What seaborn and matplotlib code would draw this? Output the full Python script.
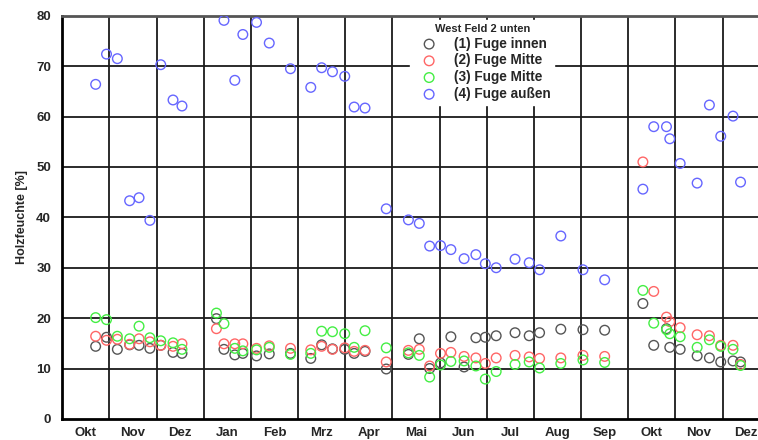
import numpy as np
import pandas as pd
import seaborn as sns
import matplotlib
matplotlib.use("Agg")
import matplotlib.pyplot as plt

# Messtage in Monaten ab Anfang Oktober (Okt = 0 .. Dez = 14)
messtag = [0.71, 0.94, 1.17, 1.43, 1.63, 1.86, 2.09, 2.35, 2.54,
           3.27, 3.43, 3.66, 3.83, 4.12, 4.39, 4.84, 5.27, 5.50, 5.73, 5.99,
           6.19, 6.42, 6.87, 7.34, 7.57, 7.79, 8.02, 8.24, 8.52, 8.77, 8.97,
           9.20, 9.60, 9.90, 10.12, 10.57, 11.04, 11.50,
           12.31, 12.54, 12.81, 12.88, 13.10, 13.46, 13.72, 13.96, 14.22, 14.38]

fuge1_innen = [14.4, 16.2, 13.8, 14.7, 14.6, 14.0, 14.6, 13.2, 13.0,
               19.9, 13.8, 12.7, 13.0, 12.5, 12.9, 13.0, 12.0, 14.7, 13.9, 13.8,
               13.0, 13.4, 9.9, 12.8, 15.9, 10.0, 11.1, 16.3, 10.3, 16.1, 16.2,
               16.5, 17.1, 16.5, 17.1, 17.8, 17.7, 17.6,
               22.9, 14.6, 17.9, 14.2, 13.8, 12.5, 12.1, 11.3, 11.5, 11.3]
fuge2_mitte = [16.4, 15.6, 15.8, 14.8, 15.9, 15.3, 14.6, 14.4, 14.9,
               17.9, 14.9, 14.9, 14.9, 14.0, 14.5, 14.0, 13.7, 14.4, 13.8, 14.1,
               13.4, 13.6, 11.3, 13.6, 13.8, 10.5, 13.0, 13.2, 12.4, 12.1, 11.0,
               12.1, 12.6, 12.3, 12.0, 12.1, 12.6, 12.4,
               51.0, 25.3, 20.2, 19.3, 18.1, 16.7, 16.5, 14.6, 14.6, 10.8]
fuge3_mitte = [20.1, 19.7, 16.4, 15.9, 18.4, 16.1, 15.5, 15.1, 13.8,
               21.0, 18.9, 14.0, 13.5, 13.7, 14.2, 12.8, 13.0, 17.4, 17.3, 16.9,
               14.2, 17.5, 14.1, 13.1, 12.6, 8.3, 10.7, 11.4, 11.5, 10.5, 7.9,
               9.4, 10.8, 11.3, 10.1, 11.0, 11.7, 11.2,
               25.5, 19.0, 17.7, 16.9, 16.3, 14.2, 15.7, 14.4, 13.8, 10.6]
fuge4_aussen = [66.4, 72.4, 71.5, 43.3, 43.9, 39.4, 70.3, 63.3, 62.1,
                np.nan, 79.1, 67.2, 76.3, 78.7, 74.6, 69.5, 65.8, 69.7, 68.9, 68.0,
                61.9, 61.7, 41.7, 39.5, 38.8, 34.3, 34.4, 33.6, 31.8, 32.6, 30.8,
                30.0, 31.7, 31.0, 29.6, 36.3, 29.6, 27.6,
                45.6, 58.0, 58.0, 55.6, 50.7, 46.8, 62.3, 56.1, 60.1, 47.0]

monate = ["Okt", "Nov", "Dez", "Jan", "Feb", "Mrz", "Apr", "Mai", "Jun",
          "Jul", "Aug", "Sep", "Okt", "Nov", "Dez"]

reihen = ["(1) Fuge innen", "(2) Fuge Mitte", "(3) Fuge Mitte", "(4) Fuge außen"]
farben = ["#555555", "#ff6666", "#44ee44", "#6666ff"]

df = pd.DataFrame({"tag": messtag,
                   reihen[0]: fuge1_innen,
                   reihen[1]: fuge2_mitte,
                   reihen[2]: fuge3_mitte,
                   reihen[3]: fuge4_aussen})
df = df.melt(id_vars="tag", var_name="reihe", value_name="feuchte")

sns.set_style("white")
plt.rcParams["font.family"] = ["Liberation Sans", "DejaVu Sans"]
plt.rcParams["font.weight"] = "bold"

fig = plt.figure(figsize=(7.58, 4.40), dpi=100)
ax = fig.add_axes([0.082, 0.048, 0.918, 0.916])

for reihe, farbe in zip(reihen, farben):
    teil = df[df["reihe"] == reihe]
    sns.scatterplot(data=teil, x="tag", y="feuchte", ax=ax, marker="o", s=48,
                    facecolors="none", edgecolor=farbe, linewidth=1.0,
                    label=reihe, zorder=3)

ax.set_xlim(0, 14.75)
ax.set_ylim(0, 80)
ax.set_yticks(np.arange(0, 81, 10))
ax.set_xticks(np.arange(len(monate)) + 0.5)
ax.set_xticklabels(monate)
ax.set_xticks(np.arange(1, 15), minor=True)
ax.tick_params(axis="both", which="both", length=0, labelsize=9.5)
ax.tick_params(axis="x", pad=6)
ax.tick_params(axis="y", pad=8)
ax.grid(False)
for yv in range(10, 80, 10):
    ax.axhline(yv, color="#1a1a1a", lw=1.3, zorder=1)
for xv in range(1, 15):
    ax.axvline(xv, color="#1a1a1a", lw=1.3, zorder=1)

for s in ["left", "bottom"]:
    ax.spines[s].set_color("black")
    ax.spines[s].set_linewidth(2)
ax.spines["top"].set_color("#555555")
ax.spines["top"].set_linewidth(2)
ax.spines["right"].set_visible(False)

ax.set_xlabel("")
ax.set_ylabel("Holzfeuchte [%]", fontsize=9, fontweight="bold", labelpad=6)

leg = ax.legend(title="West Feld 2 unten", loc="upper left",
                bbox_to_anchor=(0.5, 0.99), frameon=True, framealpha=1,
                edgecolor="white", fancybox=False, fontsize=9.8,
                title_fontsize=8, labelspacing=0.2, handletextpad=0.7,
                handlelength=2.2, borderpad=0.3, borderaxespad=0.0)
leg.get_title().set_fontweight("bold")
leg.set_zorder(5)

fig.savefig("out.png", dpi=100)
